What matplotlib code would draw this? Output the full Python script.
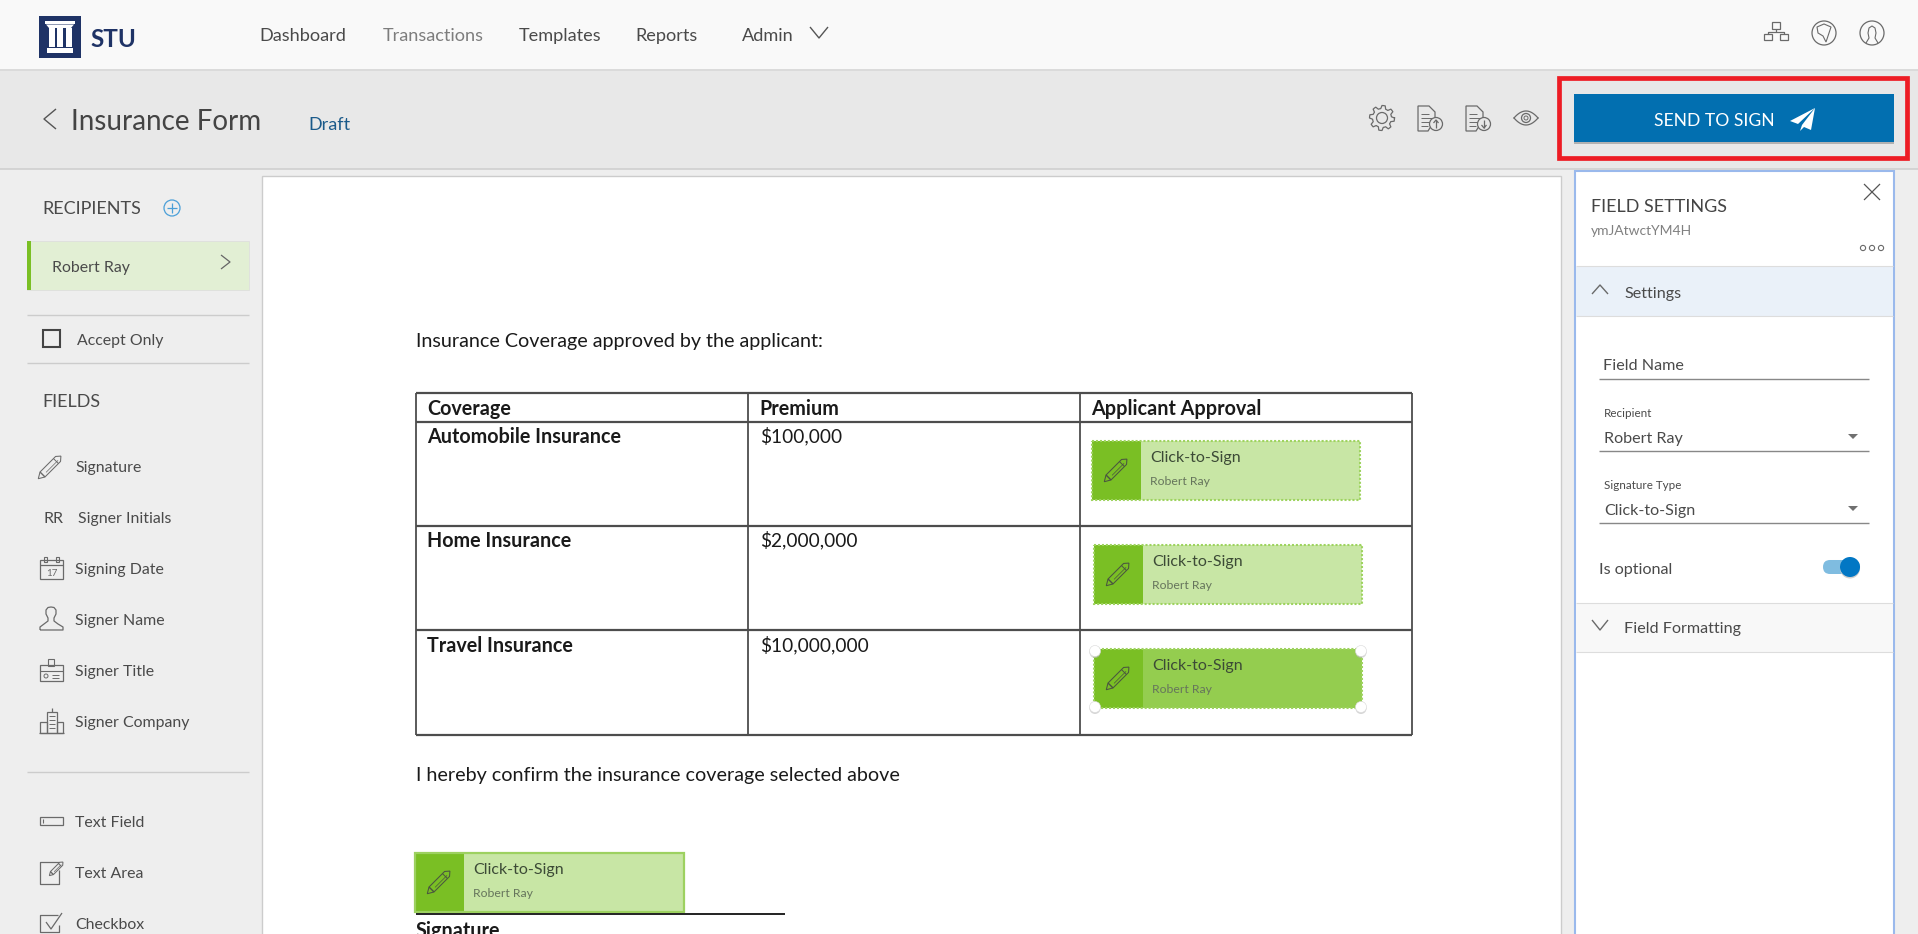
import numpy as np
import matplotlib
matplotlib.use("Agg")
import matplotlib.pyplot as plt
from matplotlib.patches import Rectangle, Circle, Ellipse, Polygon, FancyBboxPatch

W, H = 1918, 934
plt.rcParams['font.family'] = ['Lato', 'DejaVu Sans']

nav_labels = ['Dashboard', 'Transactions', 'Templates', 'Reports', 'Admin']
page_title = 'Insurance Form'
page_status = 'Draft'
send_label = 'SEND TO SIGN'
recipient_name = 'Robert Ray'
field_labels = ['Signature', 'Signer Initials', 'Signing Date', 'Signer Name', 'Signer Title', 'Signer Company']
extra_labels = ['Text Field', 'Text Area', 'Checkbox']
table_header = ['Coverage', 'Premium', 'Applicant Approval']
table_coverage = ['Automobile Insurance', 'Home Insurance', 'Travel Insurance']
table_premium = ['$100,000', '$2,000,000', '$10,000,000']
field_id = 'ymJAtwctYM4H'

GREY = '#4a4a4a'
ICON = '#6a6a6a'
NAVY = '#1f3366'
GREEN = '#7abf24'
LIGHT = '#c8e6a5'
MID = '#94cd4f'
DOC = '#1a1a1a'

fig = plt.figure(figsize=((W + 0.01) / 100, (H + 0.01) / 100), dpi=100, facecolor='#eeeeee')
ax = fig.add_axes([0, 0, 1, 1])
ax.set_xlim(0, W)
ax.set_ylim(H, 0)
ax.axis('off')


def rect(x0, y0, x1, y1, fc='none', ec='none', lw=0, z=1, **kw):
    ax.add_patch(Rectangle((x0, y0), x1 - x0, y1 - y0, fc=fc, ec=ec, lw=lw, zorder=z, **kw))


def line(xs, ys, c=ICON, lw=0.9, z=5, **kw):
    ax.plot(xs, ys, color=c, lw=lw, zorder=z, solid_capstyle='butt', **kw)


def txt(x, y, s, size=11.4, c=GREY, weight='normal', ha='left', z=6):
    return ax.text(x, y, s, fontsize=size, color=c, fontweight=weight, ha=ha,
                   va='center_baseline', zorder=z)


def circ(x, y, r, fc='none', ec=ICON, lw=0.9, z=5):
    ax.add_patch(Circle((x, y), r, fc=fc, ec=ec, lw=lw, zorder=z))


def pencil(cx, cy, s=1.0, c='#4a5540'):
    # outline of a pencil, tilted 45 degrees
    body = np.array([[-12, -3.5], [10, -3.5], [14, 0], [10, 3.5], [-12, 3.5]], float) * s
    a = np.radians(-45)
    rot = np.array([[np.cos(a), -np.sin(a)], [np.sin(a), np.cos(a)]])
    tip = np.array([[-12, -3.5], [-18, 0], [-12, 3.5]], float) * s
    for pts in (body, tip):
        p = pts @ rot.T + [cx, cy]
        ax.add_patch(Polygon(p, closed=True, fc='none', ec=c, lw=0.75, zorder=7))
    band = np.array([[7, -3.5], [7, 3.5]], float) * s @ rot.T + [cx, cy]
    line(band[:, 0], band[:, 1], c=c, lw=0.7, z=7)
    clip = np.array([[-8, 1], [9, 1]], float) * s @ rot.T + [cx, cy]
    line(clip[:, 0], clip[:, 1], c=c, lw=0.5, z=7)


def chevron(x0, x1, y_tip, y_end, c=ICON, lw=1.0):
    line([x0, (x0 + x1) / 2, x1], [y_end, y_tip, y_end], c=c, lw=lw)


def doc_icon(x, y, up):
    # page with arrow badge
    ax.add_patch(Polygon([[x, y], [x + 11, y], [x + 17, y + 6], [x + 17, y + 14], [x + 10, y + 25], [x, y + 25]],
                         closed=True, fc='none', ec=ICON, lw=0.9, zorder=5))
    for dy, w in zip((8, 12, 16, 20), (8, 13, 9, 7)):
        line([x + 3, x + 3 + w], [y + dy, y + dy], lw=0.7)
    circ(x + 18, y + 18, 6.5, fc='#e8e8e8')
    if up:
        line([x + 18, x + 18], [y + 22, y + 14], lw=0.9)
        line([x + 15.5, x + 18, x + 20.5], [y + 17, y + 14, y + 17], lw=0.9)
    else:
        line([x + 18, x + 18], [y + 14, y + 22], lw=0.9)
        line([x + 15.5, x + 18, x + 20.5], [y + 19, y + 22, y + 19], lw=0.9)


def sign_box(x0, y0, x1, y1, fill=LIGHT, style=':'):
    rect(x0, y0, x1, y1, fc=fill, z=3)
    rect(x0, y0, x0 + 49, y1, fc=GREEN, z=3)
    if style == ':':
        rect(x0, y0, x1, y1, ec='#9ed35f', lw=1.5, z=4, ls=(0, (1, 0.9)))
    else:
        rect(x0, y0, x1, y1, ec='#9dd160', lw=1.6, z=4)
    pencil(x0 + 25, (y0 + y1) / 2 - 1.5)
    txt(x0 + 58, y0 + 15, 'Click-to-Sign', size=11.5, c='#3c4a36')
    txt(x0 + 58, y0 + 39, recipient_name, size=8.8, c='#66755c')


# page regions
rect(0, 0, W, 70, fc='#f9f9f9')
line([0, W], [70.5, 70.5], c='#d6d6d6', lw=1.2)
rect(0, 71, W, 169, fc='#e8e8e8')
line([0, W], [169.5, 169.5], c='#cfcfcf', lw=1.2)
rect(262, 176, 1561, H + 2, fc='white', ec='#cccccc', lw=1, z=2)

# logo
rect(39, 16, 81, 58, fc=NAVY)
rect(45, 21, 75, 24.5, fc='white', z=2)
ax.add_patch(Polygon([[46, 24.5], [74, 24.5], [71, 28], [49, 28]], closed=True, fc='white', ec='none', zorder=2))
for cx in (51.5, 60, 68.5):
    rect(cx - 3, 28, cx + 3, 47, fc='white', z=2)
rect(47, 48, 73, 53, fc='white', z=2)
txt(90, 37.5, 'STU', size=17.5, c=NAVY, weight='bold')

# nav
nav_x = [259, 383, 519, 635, 742]
nav_c = ['#4a4a4a', '#7d7d7d', '#4a4a4a', '#4a4a4a', '#4a4a4a']
for x, s, c in zip(nav_x, nav_labels, nav_c):
    txt(x, 34, s, size=13.1, c=c)
chevron(810, 828, 38, 27, c='#555555')

# org / globe / user
rect(1771.5, 22, 1780, 29, ec=ICON, lw=0.9, z=5)
rect(1764, 34, 1772, 40, ec=ICON, lw=0.9, z=5)
rect(1780, 34, 1788, 40, ec=ICON, lw=0.9, z=5)
line([1776, 1776], [29, 32], lw=0.9)
line([1768, 1768, 1784, 1784], [34, 32, 32, 34], lw=0.9)
ax.add_patch(Ellipse((1824, 33), 24, 24, fc='none', ec=ICON, lw=0.9, zorder=5))
ax.add_patch(Polygon([[1817, 27], [1824, 24], [1831, 27], [1829, 33], [1826, 42], [1823, 36], [1818, 33]],
                     closed=True, fc='none', ec=ICON, lw=0.8, zorder=5))
ax.add_patch(Ellipse((1872, 33), 24, 24, fc='none', ec=ICON, lw=0.9, zorder=5))
line([1866, 1869, 1868, 1869, 1872, 1875, 1876, 1875, 1878],
     [43, 38, 33, 28, 26, 28, 33, 38, 43], lw=0.8)

# title band
line([56, 44, 56], [109, 119, 129], c='#555555', lw=1.0)
txt(71, 119, page_title, size=20, c='#444444')
txt(308, 123, page_status, size=13, c='#1a5a8a')

# gear
ang = np.linspace(0, 2 * np.pi, 49)
rad = np.where(np.arange(49) % 6 < 3, 12.5, 9.5)
ax.plot(1382 + rad * np.cos(ang), 118 + rad * np.sin(ang), color=ICON, lw=0.9, zorder=5)
circ(1382, 118, 5.5)
doc_icon(1418, 106, True)
doc_icon(1466, 106, False)
# eye
t = np.linspace(-1, 1, 30)
ax.plot(1526 + 12 * t, 118 - 7 * (1 - t ** 2), color=ICON, lw=0.9, zorder=5)
ax.plot(1526 + 12 * t, 118 + 7 * (1 - t ** 2), color=ICON, lw=0.9, zorder=5)
circ(1526, 118, 4.5)
circ(1526, 118, 2, lw=0.7)

# send button
rect(1558.5, 78, 1906.5, 158, ec='#ed1c24', lw=3.4, z=4)
rect(1574, 96, 1894, 144, fc='#9a9a9a', z=2, alpha=0.7)
rect(1574, 94, 1894, 142, fc='#026fb0', z=3)
txt(1654, 119, send_label, size=12.6, c='white')
ax.add_patch(Polygon([[1815, 108], [1790, 121], [1798, 124], [1815, 108], [1802, 125], [1800, 131], [1804, 127], [1811, 130]],
                     closed=True, fc='white', ec='none', zorder=6))

# left sidebar
txt(42, 207, 'RECIPIENTS', size=13)
circ(172, 208, 8, ec='#4a9fd8', lw=0.9)
line([172, 172], [203, 213], c='#4a9fd8')
line([167, 177], [208, 208], c='#4a9fd8')
rect(27, 241, 249, 290, fc='#e2efd4', ec='#dcdcdc', lw=0.5)
rect(27, 241, 31, 290, fc=GREEN, z=2)
txt(52, 266, recipient_name)
line([221, 230, 221], [255, 262, 269], c='#666666', lw=0.9)
for y in (315, 363, 772):
    line([27, 249], [y, y], c='#cccccc', lw=1.0)
rect(43, 330, 60, 347, ec='#444444', lw=1.5, z=5)
txt(77, 339, 'Accept Only')
txt(42, 400, 'FIELDS', size=13)

field_y = [466, 517, 568, 619, 670, 721]
field_x = [75, 78, 75, 75, 75, 75]
for x, y, s in zip(field_x, field_y, field_labels):
    txt(x, y, s)
txt(43, 517, 'RR')
pencil(51, 466, 1.0, c=ICON)

# calendar
rect(40, 560, 63, 579, ec=ICON, lw=0.9, z=5)
line([40, 63], [565, 565], lw=0.9)
rect(44, 557, 47, 562, ec=ICON, lw=0.8, z=5)
rect(56, 557, 59, 562, ec=ICON, lw=0.8, z=5)
txt(51.5, 572.5, '17', size=7, c=ICON, ha='center')
# person
line([40, 40, 44, 48, 48, 46, 46, 48, 51, 54, 56, 56, 54, 54, 58, 63, 63, 40],
     [630, 627, 624, 621, 618, 614, 610, 607.5, 607, 607.5, 610, 614, 618, 621, 624, 627, 630, 630], lw=0.9)
# id card
rect(40, 665, 63, 681, ec=ICON, lw=0.9, z=5)
line([40, 63], [671, 671], lw=0.8)
rect(48, 659, 54, 666, ec=ICON, lw=0.8, z=5)
circ(46, 676, 2, lw=0.7)
line([52, 59], [675, 675], lw=0.7)
line([52, 59], [678, 678], lw=0.7)
# building
rect(47, 712, 57, 733, ec=ICON, lw=0.9, z=5)
rect(40, 722, 47, 733, ec=ICON, lw=0.9, z=5)
rect(57, 722, 63, 733, ec=ICON, lw=0.9, z=5)
line([52, 52], [708, 712], lw=0.9)
line([39, 64], [733, 733], lw=0.9)
for y in (716, 720, 724, 728):
    line([49, 55], [y, y], lw=0.7)

for y, s in zip((821, 872, 923), extra_labels):
    txt(75, y, s)
rect(40, 817, 63, 825, ec=ICON, lw=0.9, z=5)
line([43, 43], [819, 823], lw=0.8)
line([59, 40, 40, 59, 59], [862, 862, 884, 884, 870], lw=0.9)
pencil(57, 868, 0.6, c=ICON)
line([58, 40, 40, 59, 59], [915, 915, 932, 932, 925], lw=0.9)
line([46, 51, 62], [922, 929, 913], lw=0.9)

# document
DOC_SIZE = 14.2
txt(416, 340, 'Insurance Coverage approved by the applicant:', size=DOC_SIZE, c=DOC)
tbl_x = [416, 748, 1080, 1412]
tbl_y = [393, 422, 526, 630, 735]
for x in tbl_x:
    line([x, x], [tbl_y[0], tbl_y[-1]], c='#4d4d4d', lw=1.3, z=3)
for y in tbl_y:
    line([tbl_x[0], tbl_x[-1]], [y, y], c='#4d4d4d', lw=1.6, z=3)
for x, s in zip((427, 759, 1091), table_header):
    txt(x, 407, s, size=DOC_SIZE, c=DOC, weight='bold')
for y, cov, prem in zip((435, 539, 644), table_coverage, table_premium):
    txt(427, y, cov, size=DOC_SIZE, c=DOC, weight='bold')
    txt(760, y, prem, size=13.8, c=DOC)

sign_box(1092, 441, 1360, 500)
sign_box(1094, 545, 1362, 604)
sign_box(1094, 649, 1362, 708, fill=MID)
for hx, hy in [(1095, 651), (1361, 651), (1095, 707), (1361, 707)]:
    ax.add_patch(Circle((hx, hy + 1.5), 5.5, fc='#bbbbbb', ec='none', alpha=0.6, zorder=8))
    ax.add_patch(Circle((hx, hy), 5.5, fc='white', ec='#d8d8d8', lw=0.4, zorder=8))

txt(416, 774, 'I hereby confirm the insurance coverage selected above', size=DOC_SIZE, c=DOC)
sign_box(415, 853, 684, 912, style='-')
line([416, 785], [914, 914], c='#222222', lw=1.4)
txt(416, 929, 'Signature', size=DOC_SIZE, c=DOC, weight='bold')

# field settings panel
rect(1575, 171, 1894, H + 3, fc='white', ec='#9ab9ec', lw=1.5, z=2)
txt(1591, 205, 'FIELD SETTINGS', size=13, c='#444444')
txt(1591, 230, field_id, size=10, c='#808080')
line([1864, 1880], [184, 200], c='#555555', lw=0.9)
line([1864, 1880], [200, 184], c='#555555', lw=0.9)
for x in (1863, 1872, 1881):
    circ(x, 248, 2.6, lw=0.8)

rect(1576, 267, 1893, 316, fc='#eaf1f9', z=3)
line([1576, 1893], [266.5, 266.5], c='#dddddd', lw=0.8)
line([1576, 1893], [316, 316], c='#dddddd', lw=0.8)
chevron(1592, 1608, 285, 294)
txt(1624, 292, 'Settings', size=11.6)

txt(1603, 364, 'Field Name', size=11.6)
txt(1604, 412, 'Recipient', size=8.4)
txt(1604, 437, recipient_name, size=11.6)
txt(1604, 484, 'Signature Type', size=8.4)
txt(1604, 509, 'Click-to-Sign', size=11.6)
for y in (379, 451, 523):
    line([1599, 1869], [y + 0.5, y + 0.5], c='#888888', lw=1.0)
for y in (436, 508):
    ax.add_patch(Polygon([[1848, y - 2], [1858, y - 2], [1853, y + 3]], closed=True, fc='#707070', ec='none', zorder=5))

txt(1599, 568, 'Is optional', size=11.6)
ax.add_patch(FancyBboxPatch((1823, 560), 37, 14, boxstyle='round,pad=0,rounding_size=7',
                            fc='#7fbce0', ec='none', lw=0, zorder=4))
circ(1850, 568.5, 10, fc='#cfcfcf', ec='none', lw=0, z=4)
circ(1850, 567, 10, fc='#0277c4', ec='none', lw=0, z=5)

rect(1576, 604, 1893, 652, fc='#f8f8f8', z=3)
line([1576, 1893], [603.5, 603.5], c='#dddddd', lw=0.8)
line([1576, 1893], [652, 652], c='#dddddd', lw=0.8)
chevron(1592, 1608, 630, 620)
txt(1624, 627.5, 'Field Formatting', size=11.6)

fig.savefig('out.png', dpi=100, facecolor=fig.get_facecolor())
